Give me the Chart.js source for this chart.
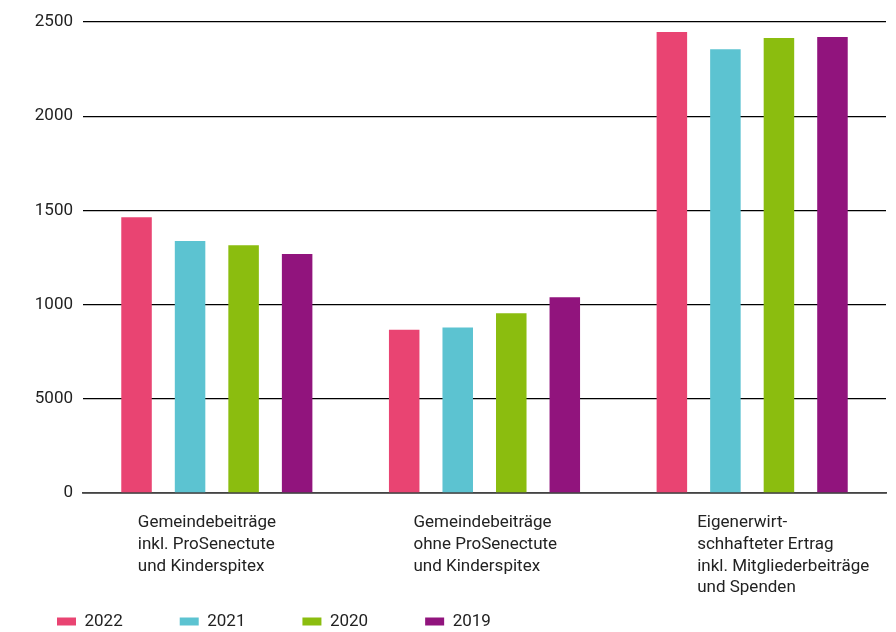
<!DOCTYPE html>
<html>
<head>
<meta charset="utf-8">
<script src="https://cdn.jsdelivr.net/npm/chart.js@4"></script>
<style>
  html, body { margin: 0; padding: 0; background: #fff; }
  #wrap { width: 896px; height: 632px; position: relative; }
</style>
</head>
<body>
<div id="wrap"><canvas id="ertragChart"></canvas></div>
<script>
// Kategorien (mehrzeilige Beschriftung)
const kategorien = [
  ['Gemeindebeiträge', 'inkl. ProSenectute', 'und Kinderspitex'],
  ['Gemeindebeiträge', 'ohne ProSenectute', 'und Kinderspitex'],
  ['Eigenerwirt-', 'schhafteter Ertrag', 'inkl. Mitgliederbeiträge', 'und Spenden']
];
const jahre = ['2022', '2021', '2020', '2019'];
const werte2022 = [1464, 867, 2447];
const werte2021 = [1337, 878, 2356];
const werte2020 = [1315, 954, 2415];
const werte2019 = [1268, 1039, 2420];
const farben = ['#e94472', '#5cc3d1', '#8bbd0f', '#91147d'];
// Achsenbeschriftung wie im Original (inkl. "5000")
const yTickLabels = ['0', '5000', '1000', '1500', '2000', '2500'];

const schrift = "'Roboto', 'DejaVu Sans', sans-serif";
// Verschiebung der linksbündigen Kategorietexte gegenüber der Gruppenmitte
const textVersatz = [-79, -71, -55];

const ctx = document.getElementById('ertragChart').getContext('2d');
new Chart(ctx, {
  type: 'bar',
  data: {
    labels: kategorien,
    datasets: [werte2022, werte2021, werte2020, werte2019].map((d, i) => ({
      label: jahre[i],
      data: d,
      backgroundColor: farben[i],
      borderWidth: 0,
      categoryPercentage: 0.8,
      barPercentage: 0.57
    }))
  },
  options: {
    responsive: true,
    maintainAspectRatio: false,
    animation: false,
    layout: { padding: { top: 22, right: 10, left: 0, bottom: -8 } },
    plugins: {
      legend: {
        position: 'bottom',
        align: 'start',
        labels: {
          boxWidth: 19,
          boxHeight: 8,
          padding: 57,
          color: '#222',
          font: { family: schrift, size: 17 }
        }
      },
      tooltip: { enabled: false }
    },
    scales: {
      x: {
        // Beschriftungen dürfen in den Legendenbereich ragen
        afterFit: (scale) => {
          scale.height = 63;
          scale.paddingLeft = 0;
          scale.paddingRight = 0;
          scale._computeLabelArea = () => null;
          const basis = Object.getPrototypeOf(scale).getPixelForTick;
          scale.getPixelForTick = function (i) {
            return basis.call(this, i) + (textVersatz[i] || 0);
          };
        },
        grid: { display: false, drawTicks: false },
        border: { color: '#444', width: 1.8 },
        ticks: {
          align: 'start',
          padding: 19,
          maxRotation: 0,
          autoSkip: false,
          color: '#222',
          font: { family: schrift, size: 17, lineHeight: 1.28 }
        }
      },
      y: {
        min: 0,
        max: 2500,
        afterFit: (scale) => { scale.width = 83; },
        grid: {
          color: '#000',
          lineWidth: 1.3,
          drawTicks: false
        },
        border: { display: false },
        ticks: {
          stepSize: 500,
          padding: 10,
          color: '#222',
          font: { family: schrift, size: 17 },
          callback: (v, i) => yTickLabels[i]
        }
      }
    }
  }
});
</script>
</body>
</html>
